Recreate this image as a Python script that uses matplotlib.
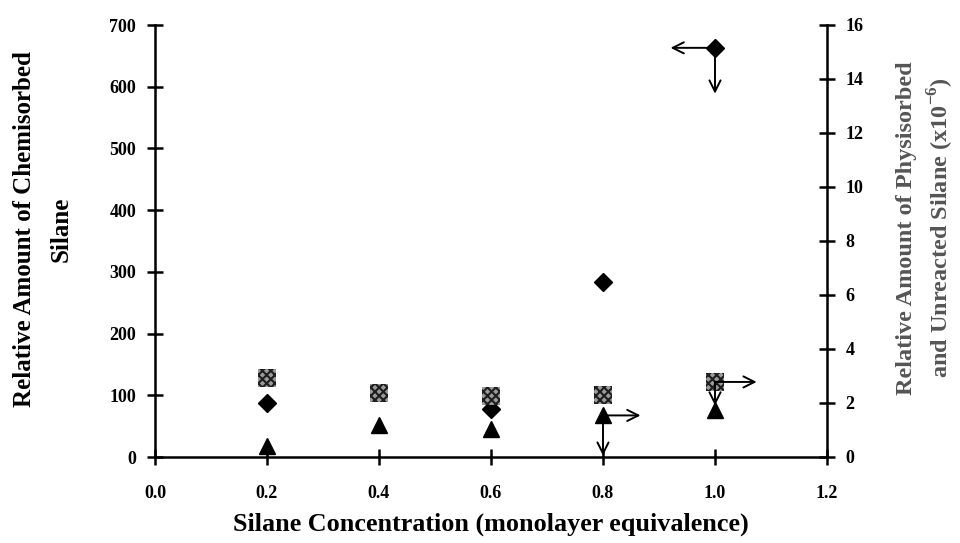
import matplotlib
matplotlib.use("Agg")
import matplotlib.pyplot as plt

plt.rcParams['font.family'] = ['Liberation Serif', 'DejaVu Serif']
plt.rcParams['font.weight'] = 'bold'
plt.rcParams['axes.labelweight'] = 'bold'
plt.rcParams['mathtext.fontset'] = 'custom'
plt.rcParams['mathtext.rm'] = 'Liberation Serif'
plt.rcParams['mathtext.bf'] = 'Liberation Serif:bold'
plt.rcParams['hatch.linewidth'] = 1.5

# Silane concentration (monolayer equivalence)
concentration = [0.2, 0.4, 0.6, 0.8, 1.0]
chem_x = [0.2, 0.6, 0.8, 1.0]
chemisorbed = [87, 78, 284, 663]                 # left axis
physisorbed = [2.93, 2.37, 2.26, 2.30, 2.78]     # right axis (x10^-6)
unreacted = [0.41, 1.19, 1.02, 1.54, 1.74]       # right axis (x10^-6)

x_ticks = [0.0, 0.2, 0.4, 0.6, 0.8, 1.0, 1.2]
left_ticks = [0, 100, 200, 300, 400, 500, 600, 700]
right_ticks = [0, 2, 4, 6, 8, 10, 12, 14, 16]

fig = plt.figure(figsize=(9.6, 5.43), dpi=100)
ax = fig.add_axes([155 / 960, 1 - 457 / 543, 672 / 960, 432 / 543])
ax2 = ax.twinx()

ax.set_xlim(0, 1.2)
ax.set_ylim(0, 700)
ax2.set_ylim(0, 16)

# chemisorbed silane (diamonds, left axis)
ax.plot(chem_x, chemisorbed, linestyle='none', marker='D', ms=9.5,
        color='black', zorder=3)

# physisorbed silane (stippled squares) and unreacted silane (triangles)
ax2.scatter(concentration, physisorbed, marker='s', s=165, facecolor='#9a9a9a',
            edgecolor='#1e1e1e', hatch='xxxx', linewidths=0, zorder=4)
ax2.plot(concentration, unreacted, linestyle='none', marker='^', ms=12,
         color='black', zorder=5)

arrow = dict(arrowstyle='<-, head_length=0.8, head_width=0.4', color='black',
             lw=1.4, shrinkA=0, shrinkB=0)

# arrows pointing from a point toward the axis it belongs to
ax.annotate('', xy=(chem_x[3], chemisorbed[3]), xytext=(-32, 0),
            textcoords='offset points', arrowprops=arrow, zorder=6)
ax.annotate('', xy=(chem_x[3], chemisorbed[3]), xytext=(0, -33),
            textcoords='offset points', arrowprops=arrow, zorder=6)
ax2.annotate('', xy=(concentration[3], unreacted[3]), xytext=(27, 0),
             textcoords='offset points', arrowprops=arrow, zorder=6)
ax2.annotate('', xy=(concentration[3], unreacted[3]), xytext=(0, -29),
             textcoords='offset points', arrowprops=arrow, zorder=6)
ax2.annotate('', xy=(concentration[4], physisorbed[4]), xytext=(30, 0),
             textcoords='offset points', arrowprops=arrow, zorder=6)
ax2.annotate('', xy=(concentration[4], physisorbed[4]), xytext=(0, -17),
             textcoords='offset points', arrowprops=arrow, zorder=6)

for a in (ax, ax2):
    a.spines['top'].set_visible(False)
    for s in ('left', 'right', 'bottom'):
        a.spines[s].set_linewidth(1.8)
ax.spines['right'].set_visible(False)
ax2.spines['left'].set_visible(False)
ax2.spines['bottom'].set_visible(False)

ax.set_xticks(x_ticks)
ax.set_xticklabels([f'{v:.1f}' for v in x_ticks])
ax.set_yticks(left_ticks)
ax.set_yticklabels([str(v) for v in left_ticks])
ax2.set_yticks(right_ticks)
ax2.set_yticklabels([str(v) for v in right_ticks])

ax.tick_params(axis='x', direction='inout', length=11, width=1.8, pad=15,
               labelsize=13)
ax.tick_params(axis='y', direction='inout', length=11, width=1.8, pad=8,
               labelsize=13)
ax2.tick_params(axis='y', direction='inout', length=11, width=1.8, pad=8,
                labelsize=13)

ax.set_xlabel('Silane Concentration (monolayer equivalence)', fontsize=18.8,
              fontweight='bold', labelpad=7)

fig.text(43 / 960, 1 - 229 / 543, 'Relative Amount of Chemisorbed\nSilane',
         rotation=90, ha='center', va='center', fontsize=18,
         multialignment='center', linespacing=1.75)
fig.text(926 / 960, 1 - 228 / 543,
         'Relative Amount of Physisorbed\nand Unreacted Silane (x10$^{\\mathbf{-6}}$)',
         rotation=90, ha='center', va='center', fontsize=17.5, color='#555555',
         multialignment='center', linespacing=1.4)

fig.savefig('out.png', dpi=100, facecolor='white')
